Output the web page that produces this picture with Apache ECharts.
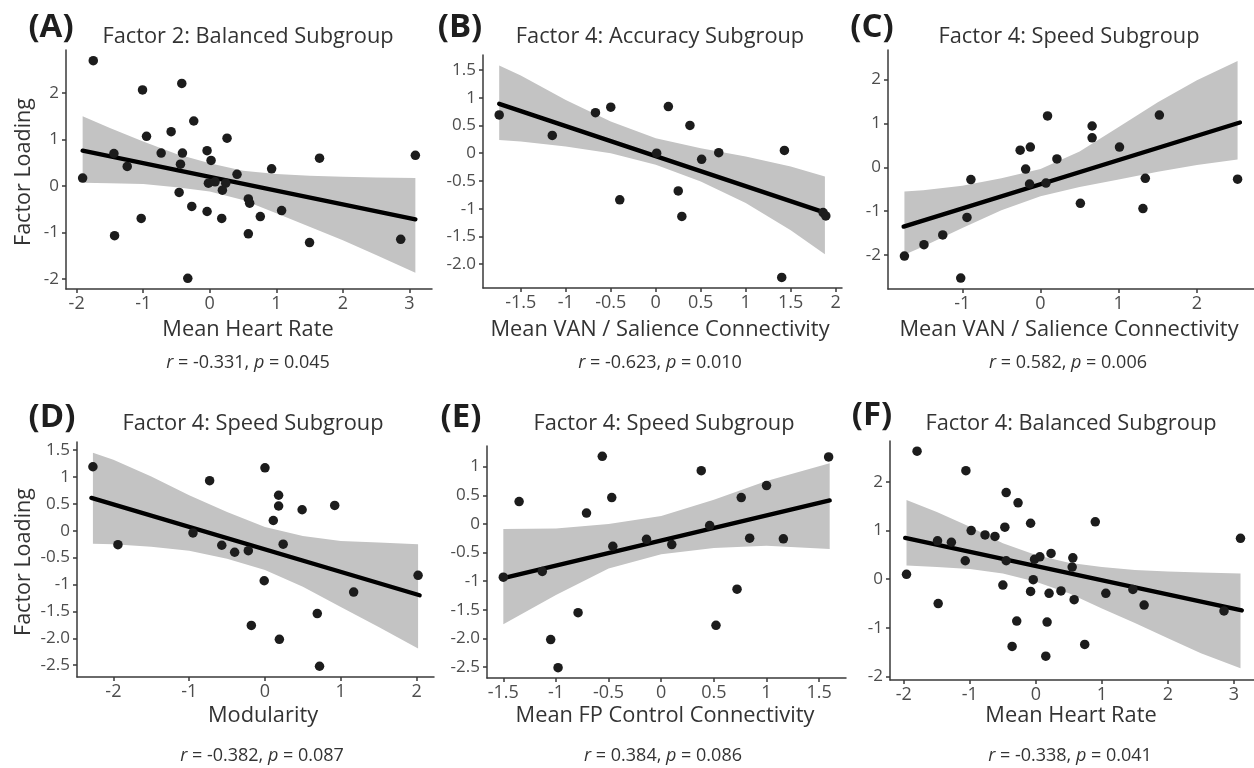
<!DOCTYPE html>
<html>
<head>
<meta charset="utf-8">
<script src="https://cdn.jsdelivr.net/npm/echarts@6/dist/echarts.min.js"></script>
<style>
  html, body { margin: 0; padding: 0; background: #ffffff; }
  #chart { width: 1254px; height: 768px; }
</style>
</head>
<body>
<div id="chart"></div>
<script>
// ---------------- DATA ----------------
// Panel A: Factor 2, Balanced subgroup vs Mean Heart Rate
const panelA_x = [-1.75, -1.91, -1.44, -1.43, -1.24, -1.01, -0.95, -1.03, -0.73, -0.58, -0.42, -0.41, -0.44, -0.46, -0.24, -0.27, -0.33, -0.04, 0.02, -0.02, 0.08, -0.04, 0.19, 0.18, 0.24, 0.26, 0.41, 0.58, 0.60, 0.58, 0.76, 0.93, 1.08, 1.50, 1.65, 2.87, 3.09];
const panelA_y = [2.70, 0.17, 0.70, -1.07, 0.42, 2.07, 1.07, -0.70, 0.71, 1.17, 2.21, 0.71, 0.47, -0.14, 1.40, -0.44, -1.99, 0.76, 0.55, 0.06, 0.09, -0.55, -0.09, -0.70, 0.06, 1.03, 0.25, -0.28, -0.37, -1.03, -0.66, 0.37, -0.53, -1.22, 0.60, -1.15, 0.66];
const panelA_fitX = [-1.91, 3.09];
const panelA_fitY = [0.76, -0.72];
const panelA_bandX = [-1.91, -1.5, -1.0, -0.5, 0, 0.5, 1.0, 1.5, 2.0, 2.5, 3.09];
const panelA_bandUpper = [1.50, 1.25, 0.96, 0.69, 0.49, 0.33, 0.26, 0.22, 0.20, 0.18, 0.17];
const panelA_bandLower = [0.07, 0.06, 0.04, -0.03, -0.12, -0.30, -0.59, -0.88, -1.17, -1.49, -1.87];
const panelA_xTicks = [-2, -1, 0, 1, 2, 3];
const panelA_yTicks = [-2, -1, 0, 1, 2];

// Panel B: Factor 4, Accuracy subgroup vs Mean VAN / Salience Connectivity
const panelB_x = [-1.74, -1.15, -0.67, -0.50, -0.40, 0.01, 0.14, 0.38, 0.25, 0.29, 0.51, 0.70, 1.43, 1.40, 1.86, 1.89];
const panelB_y = [0.69, 0.32, 0.73, 0.83, -0.84, 0.00, 0.84, 0.50, -0.68, -1.14, -0.11, 0.01, 0.05, -2.24, -1.07, -1.13];
const panelB_fitX = [-1.74, 1.88];
const panelB_fitY = [0.89, -1.07];
const panelB_bandX = [-1.74, -1.5, -1.0, -0.5, 0, 0.5, 1.0, 1.5, 1.88];
const panelB_bandUpper = [1.58, 1.40, 0.96, 0.57, 0.27, 0.09, -0.06, -0.24, -0.42];
const panelB_bandLower = [0.24, 0.21, 0.12, 0.00, -0.21, -0.51, -0.90, -1.39, -1.82];
const panelB_xTicks = [-1.5, -1, -0.5, 0, 0.5, 1, 1.5, 2];
const panelB_xLabels = ['-1.5', '-1', '-0.5', '0', '0.5', '1', '1.5', '2'];
const panelB_yTicks = [-2, -1.5, -1, -0.5, 0, 0.5, 1, 1.5];
const panelB_yLabels = ['-2.0', '-1.5', '-1', '-0.5', '0', '0.5', '1', '1.5'];

// Panel C: Factor 4, Speed subgroup vs Mean VAN / Salience Connectivity
const panelC_x = [-1.74, -1.49, -1.25, -1.02, -0.94, -0.89, -0.26, -0.13, -0.19, -0.14, 0.07, 0.09, 0.21, 0.51, 0.66, 0.66, 1.01, 1.31, 1.34, 1.52, 2.52];
const panelC_y = [-2.02, -1.76, -1.54, -2.52, -1.14, -0.28, 0.39, 0.46, -0.04, -0.38, -0.36, 1.17, 0.19, -0.82, 0.94, 0.67, 0.46, -0.94, -0.25, 1.19, -0.27];
const panelC_fitX = [-1.75, 2.55];
const panelC_fitY = [-1.35, 1.02];
const panelC_bandX = [-1.74, -1.5, -1.0, -0.5, 0, 0.5, 1.0, 1.5, 2.0, 2.52];
const panelC_bandUpper = [-0.55, -0.52, -0.42, -0.25, -0.04, 0.36, 0.92, 1.48, 1.98, 2.42];
const panelC_bandLower = [-1.99, -1.80, -1.38, -0.98, -0.66, -0.45, -0.28, -0.10, 0.05, 0.18];
const panelC_xTicks = [-1, 0, 1, 2];
const panelC_yTicks = [-2, -1, 0, 1, 2];

// Panel D: Factor 4, Speed subgroup vs Modularity
const panelD_x = [-2.27, -1.94, -0.95, -0.73, -0.57, -0.40, -0.22, -0.18, 0.00, -0.01, 0.11, 0.18, 0.18, 0.24, 0.19, 0.49, 0.69, 0.72, 0.92, 1.17, 2.02];
const panelD_y = [1.19, -0.26, -0.04, 0.93, -0.27, -0.40, -0.37, -1.76, 1.17, -0.93, 0.19, 0.66, 0.46, -0.25, -2.02, 0.39, -1.54, -2.52, 0.47, -1.14, -0.83];
const panelD_fitX = [-2.29, 2.04];
const panelD_fitY = [0.61, -1.20];
const panelD_bandX = [-2.27, -2.0, -1.5, -1.0, -0.5, 0, 0.5, 1.0, 1.5, 2.02];
const panelD_bandUpper = [1.45, 1.32, 1.01, 0.66, 0.35, 0.07, -0.10, -0.19, -0.22, -0.25];
const panelD_bandLower = [-0.24, -0.25, -0.30, -0.37, -0.52, -0.73, -1.04, -1.42, -1.79, -2.19];
const panelD_xTicks = [-2, -1, 0, 1, 2];
const panelD_yTicks = [-2.5, -2, -1.5, -1, -0.5, 0, 0.5, 1, 1.5];
const panelD_yLabels = ['-2.5', '-2.0', '-1.5', '-1', '-0.5', '0', '0.5', '1', '1.5'];

// Panel E: Factor 4, Speed subgroup vs Mean FP Control Connectivity
const panelE_x = [-1.50, -1.35, -1.13, -1.05, -0.98, -0.79, -0.71, -0.56, -0.47, -0.46, -0.14, 0.10, 0.38, 0.46, 0.52, 0.72, 0.76, 0.84, 1.00, 1.16, 1.59];
const panelE_y = [-0.93, 0.39, -0.83, -2.02, -2.51, -1.55, 0.19, 1.18, 0.46, -0.39, -0.27, -0.36, 0.93, -0.03, -1.77, -1.14, 0.46, -0.25, 0.67, -0.26, 1.17];
const panelE_fitX = [-1.51, 1.60];
const panelE_fitY = [-0.95, 0.41];
const panelE_bandX = [-1.5, -1.0, -0.5, 0, 0.5, 1.0, 1.6];
const panelE_bandUpper = [-0.09, -0.08, 0.00, 0.14, 0.42, 0.75, 1.06];
const panelE_bandLower = [-1.75, -1.24, -0.78, -0.53, -0.42, -0.38, -0.44];
const panelE_xTicks = [-1.5, -1, -0.5, 0, 0.5, 1, 1.5];
const panelE_xLabels = ['-1.5', '-1', '-0.5', '0', '0.5', '1', '1.5'];
const panelE_yTicks = [-2.5, -2, -1.5, -1, -0.5, 0, 0.5, 1];
const panelE_yLabels = ['-2.5', '-2.0', '-1.5', '-1', '-0.5', '0', '0.5', '1'];

// Panel F: Factor 4, Balanced subgroup vs Mean Heart Rate
const panelF_x = [-1.96, -1.80, -1.48, -1.49, -1.28, -1.07, -1.06, -0.98, -0.77, -0.62, -0.50, -0.47, -0.45, -0.45, -0.29, -0.36, -0.27, -0.08, -0.08, -0.04, -0.02, 0.06, 0.15, 0.17, 0.20, 0.23, 0.38, 0.56, 0.55, 0.58, 0.74, 0.90, 1.06, 1.47, 1.64, 2.85, 3.10];
const panelF_y = [0.10, 2.63, -0.50, 0.79, 0.76, 0.38, 2.23, 1.00, 0.91, 0.88, -0.12, 1.07, 1.78, 0.38, -0.86, -1.38, 1.57, 1.15, -0.25, -0.01, 0.41, 0.46, -1.58, -0.88, -0.29, 0.53, -0.24, 0.44, 0.25, -0.42, -1.34, 1.18, -0.29, -0.21, -0.53, -0.65, 0.84];
const panelF_fitX = [-1.98, 3.12];
const panelF_fitY = [0.85, -0.64];
const panelF_bandX = [-1.96, -1.5, -1.0, -0.5, 0, 0.5, 1.0, 1.5, 2.0, 2.5, 3.1];
const panelF_bandUpper = [1.63, 1.38, 1.08, 0.74, 0.50, 0.34, 0.25, 0.19, 0.16, 0.14, 0.12];
const panelF_bandLower = [0.28, 0.25, 0.21, 0.12, -0.05, -0.29, -0.60, -0.90, -1.21, -1.52, -1.83];
const panelF_xTicks = [-2, -1, 0, 1, 2, 3];
const panelF_yTicks = [-2, -1, 0, 1, 2];

// Text
const panelLetters = ['(A)', '(B)', '(C)', '(D)', '(E)', '(F)'];
const panelTitles = ['Factor 2: Balanced Subgroup', 'Factor 4: Accuracy Subgroup', 'Factor 4: Speed Subgroup',
                     'Factor 4: Speed Subgroup', 'Factor 4: Speed Subgroup', 'Factor 4: Balanced Subgroup'];
const xAxisNames = ['Mean Heart Rate', 'Mean VAN / Salience Connectivity', 'Mean VAN / Salience Connectivity',
                    'Modularity', 'Mean FP Control Connectivity', 'Mean Heart Rate'];
const yAxisName = 'Factor Loading';
const statR = ['-0.331', '-0.623', '0.582', '-0.382', '0.384', '-0.338'];
const statP = ['0.045', '0.010', '0.006', '0.087', '0.086', '0.041'];

// ---------------- LAYOUT / STYLE ----------------
const FONT = '"Open Sans", "Noto Sans", sans-serif';
const INK = '#333333';
const TICKINK = '#4d4d4d';

const panels = [
  { x: panelA_x, y: panelA_y, fx: panelA_fitX, fy: panelA_fitY, bx: panelA_bandX, bu: panelA_bandUpper, bl: panelA_bandLower,
    xt: panelA_xTicks, yt: panelA_yTicks, xmin: -2.16, xmax: 3.34, ymin: -2.22, ymax: 2.93,
    grid: { left: 66, top: 50, width: 366, height: 239 }, letter: [51, 28], title: [248, 37], xname: [248, 330], stat: [248, 363] },
  { x: panelB_x, y: panelB_y, fx: panelB_fitX, fy: panelB_fitY, bx: panelB_bandX, bu: panelB_bandUpper, bl: panelB_bandLower,
    xt: panelB_xTicks, xl: panelB_xLabels, yt: panelB_yTicks, yl: panelB_yLabels, xmin: -1.92, xmax: 2.07, ymin: -2.43, ymax: 1.77,
    grid: { left: 483, top: 55, width: 359, height: 233 }, letter: [460, 28], title: [660, 37], xname: [660, 330], stat: [660, 363] },
  { x: panelC_x, y: panelC_y, fx: panelC_fitX, fy: panelC_fitY, bx: panelC_bandX, bu: panelC_bandUpper, bl: panelC_bandLower,
    xt: panelC_xTicks, yt: panelC_yTicks, xmin: -1.95, xmax: 2.73, ymin: -2.77, ymax: 2.67,
    grid: { left: 888, top: 50, width: 366, height: 239 }, letter: [872, 28], title: [1069, 37], xname: [1069, 330], stat: [1068, 363] },
  { x: panelD_x, y: panelD_y, fx: panelD_fitX, fy: panelD_fitY, bx: panelD_bandX, bu: panelD_bandUpper, bl: panelD_bandLower,
    xt: panelD_xTicks, yt: panelD_yTicks, yl: panelD_yLabels, xmin: -2.48, xmax: 2.23, ymin: -2.72, ymax: 1.65,
    grid: { left: 77, top: 442, width: 357, height: 235 }, letter: [52, 418], title: [253, 424], xname: [263, 716], stat: [262, 756] },
  { x: panelE_x, y: panelE_y, fx: panelE_fitX, fy: panelE_fitY, bx: panelE_bandX, bu: panelE_bandUpper, bl: panelE_bandLower,
    xt: panelE_xTicks, xl: panelE_xLabels, yt: panelE_yTicks, yl: panelE_yLabels, xmin: -1.655, xmax: 1.755, ymin: -2.69, ymax: 1.36,
    grid: { left: 487, top: 446, width: 359, height: 232 }, letter: [461, 418], title: [664, 424], xname: [665, 716], stat: [663, 756] },
  { x: panelF_x, y: panelF_y, fx: panelF_fitX, fy: panelF_fitY, bx: panelF_bandX, bu: panelF_bandUpper, bl: panelF_bandLower,
    xt: panelF_xTicks, yt: panelF_yTicks, xmin: -2.21, xmax: 3.35, ymin: -2.07, ymax: 2.84,
    grid: { left: 890, top: 441, width: 367, height: 239 }, letter: [872, 416], title: [1071, 424], xname: [1071, 716], stat: [1070, 756] }
];

function labelFormatter(ticks, labels) {
  return function (v) {
    if (!labels) return String(v);
    for (let i = 0; i < ticks.length; i++) {
      if (Math.abs(ticks[i] - v) < 1e-9) return labels[i];
    }
    return String(v);
  };
}

const grids = [], xAxes = [], yAxes = [], series = [], graphics = [];
const axisLineStyle = { color: '#3a3a3a', width: 1.5 };

panels.forEach((p, i) => {
  grids.push(Object.assign({ containLabel: false, outerBoundsMode: 'none' }, p.grid));
  xAxes.push({
    gridIndex: i, type: 'value', min: p.xmin, max: p.xmax,
    axisLine: { show: true, onZero: false, lineStyle: axisLineStyle },
    axisTick: { show: true, length: 4, inside: false, customValues: p.xt, lineStyle: axisLineStyle },
    axisLabel: { show: true, customValues: p.xt, formatter: labelFormatter(p.xt, p.xl), fontSize: 18, color: TICKINK, fontFamily: FONT, margin: 6, hideOverlap: false, showMinLabel: true, showMaxLabel: true },
    splitLine: { show: false }
  });
  yAxes.push({
    gridIndex: i, type: 'value', min: p.ymin, max: p.ymax,
    axisLine: { show: true, onZero: false, lineStyle: axisLineStyle },
    axisTick: { show: true, length: 4, inside: false, customValues: p.yt, lineStyle: axisLineStyle },
    axisLabel: { show: true, customValues: p.yt, formatter: labelFormatter(p.yt, p.yl), fontSize: 17, color: TICKINK, fontFamily: FONT, margin: 7, hideOverlap: false },
    splitLine: { show: false }
  });

  // confidence band
  const bx = p.bx, bu = p.bu, bl = p.bl;
  series.push({
    type: 'custom', xAxisIndex: i, yAxisIndex: i, z: 1, silent: true,
    data: bx.map((x, k) => [x, bu[k], bl[k]]),
    encode: { x: 0, y: [1, 2] },
    renderItem: function (params, api) {
      if (params.dataIndex !== 0) return null;
      const pts = [];
      for (let k = 0; k < bx.length; k++) pts.push(api.coord([bx[k], bu[k]]));
      for (let k = bx.length - 1; k >= 0; k--) pts.push(api.coord([bx[k], bl[k]]));
      return { type: 'polygon', shape: { points: pts }, style: { fill: '#c3c3c3', stroke: null } };
    }
  });
  // regression line
  series.push({
    type: 'line', xAxisIndex: i, yAxisIndex: i, z: 3, silent: true,
    data: p.fx.map((x, k) => [x, p.fy[k]]),
    showSymbol: false, symbol: 'none',
    lineStyle: { color: '#000000', width: 4.4, cap: 'round' }
  });
  // points
  series.push({
    type: 'scatter', xAxisIndex: i, yAxisIndex: i, z: 4, silent: true,
    data: p.x.map((x, k) => [x, p.y[k]]),
    symbol: 'circle', symbolSize: 9.5,
    itemStyle: { color: '#1c1c1c', opacity: 1 }
  });

  graphics.push({ type: 'text', x: p.letter[0], y: p.letter[1], silent: true,
    style: { text: panelLetters[i], fontFamily: FONT, fontSize: 33, fontWeight: 'bold', fill: '#1e1e1e', align: 'center', verticalAlign: 'middle' } });
  graphics.push({ type: 'text', x: p.title[0], y: p.title[1], silent: true,
    style: { text: panelTitles[i], fontFamily: FONT, fontSize: 21.8, fill: INK, align: 'center', verticalAlign: 'middle' } });
  graphics.push({ type: 'text', x: p.xname[0], y: p.xname[1], silent: true,
    style: { text: xAxisNames[i], fontFamily: FONT, fontSize: 21.8, fill: INK, align: 'center', verticalAlign: 'middle' } });
  graphics.push({ type: 'text', x: p.stat[0], y: p.stat[1], silent: true,
    style: { text: '{i|r} = ' + statR[i] + ', {i|p} = ' + statP[i], fontFamily: FONT, fontSize: 18, fill: INK, align: 'center', verticalAlign: 'middle',
      rich: { i: { fontStyle: 'italic', fontFamily: FONT, fontSize: 18, fill: INK } } } });
});

graphics.push({ type: 'text', x: 24, y: 172, rotation: Math.PI / 2, silent: true,
  style: { text: yAxisName, fontFamily: FONT, fontSize: 21.5, fill: INK, align: 'center', verticalAlign: 'middle' } });
graphics.push({ type: 'text', x: 24, y: 562, rotation: Math.PI / 2, silent: true,
  style: { text: yAxisName, fontFamily: FONT, fontSize: 21.5, fill: INK, align: 'center', verticalAlign: 'middle' } });

const chart = echarts.init(document.getElementById('chart'), null, { renderer: 'canvas' });
chart.setOption({
  animation: false,
  backgroundColor: '#ffffff',
  grid: grids,
  xAxis: xAxes,
  yAxis: yAxes,
  series: series,
  graphic: graphics
});
</script>
</body>
</html>
